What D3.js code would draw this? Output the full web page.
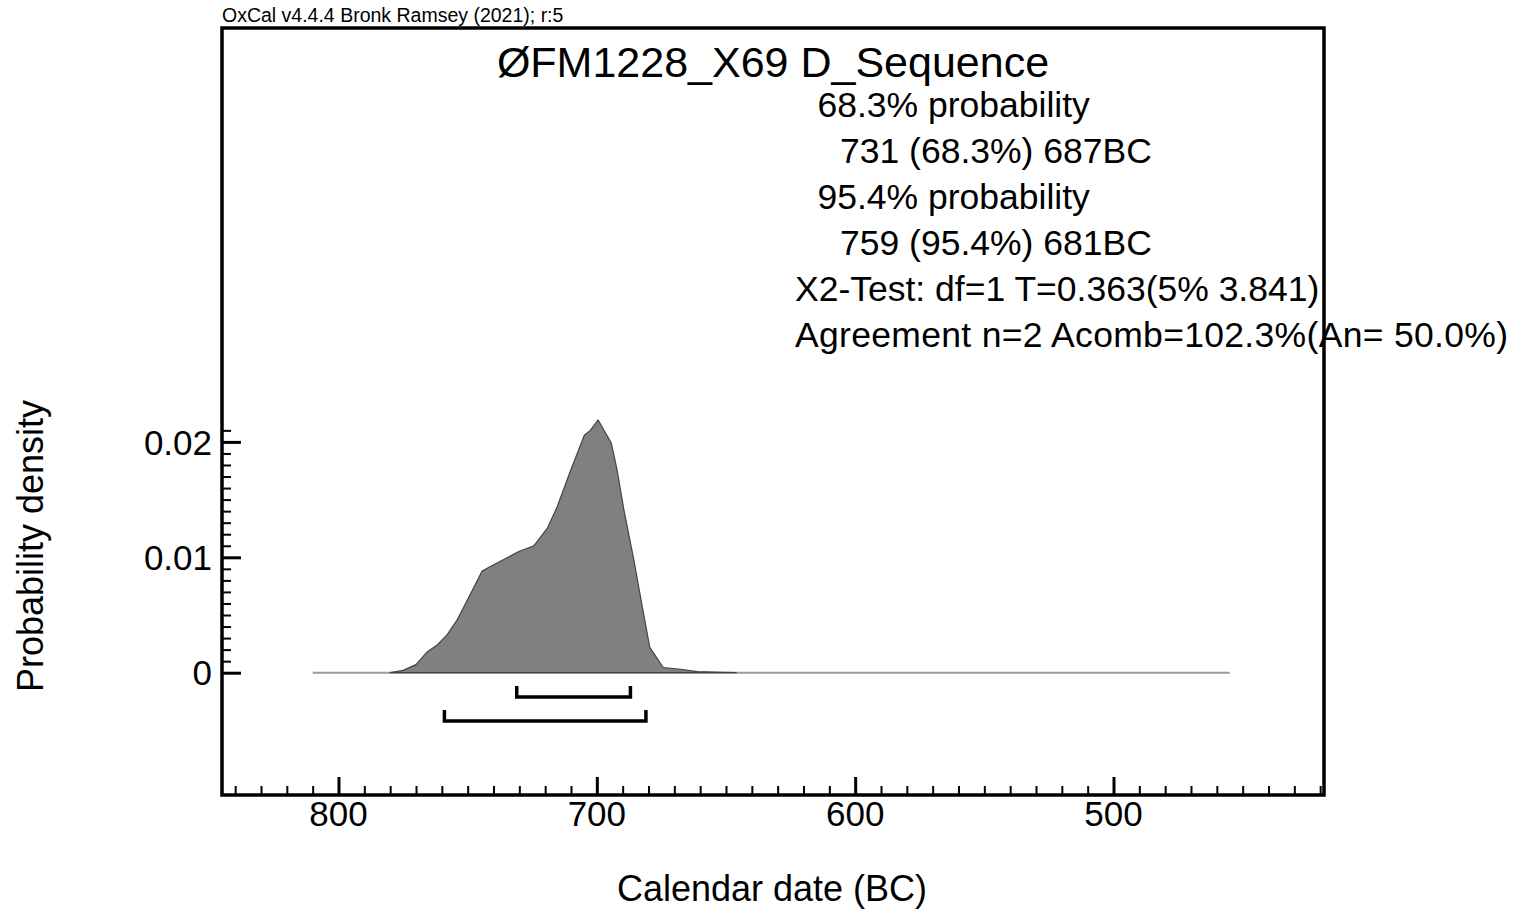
<!DOCTYPE html>
<html>
<head>
<meta charset="utf-8">
<script src="https://cdn.jsdelivr.net/npm/d3@7"></script>
<style>
  html, body { margin: 0; padding: 0; background: #fff; }
  svg { display: block; font-family: "Liberation Sans", Arial, sans-serif; }
</style>
</head>
<body>
<svg id="chart" width="1520" height="911"></svg>
<script>
// ---- data ----
const years = [810, 780, 775, 770, 765.7, 761.8, 757.9, 754, 750.8, 744.4, 741.2, 735.3, 730.2, 724.4, 719.2, 715.3, 710.2, 704.8, 702.5, 699.5, 694.4, 692.1, 689.6, 685.7, 682.4, 679.5, 674.3, 667.6, 661, 651, 646, 455];
const density = [0, 0, 0.0002, 0.0007, 0.0018, 0.0024, 0.0033, 0.0046, 0.0060, 0.0088, 0.0092, 0.0099, 0.0105, 0.0110, 0.0125, 0.0144, 0.0175, 0.0206, 0.0210, 0.0219, 0.0199, 0.0175, 0.0142, 0.0098, 0.0057, 0.0022, 0.00045, 0.0003, 0.0001, 0.00002, 0, 0];
const range68 = [731, 687];
const range95 = [759, 681];
const xTickValues = [800, 700, 600, 500];
const yTickValues = [0, 0.01, 0.02];
const yTickLabels = ["0", "0.01", "0.02"];
const headerText = "OxCal v4.4.4 Bronk Ramsey (2021); r:5";
const titleText = "ØFM1228_X69 D_Sequence";
const infoLines = [
  "68.3% probability",
  "731 (68.3%) 687BC",
  "95.4% probability",
  "759 (95.4%) 681BC",
  "X2-Test: df=1 T=0.363(5% 3.841)",
  "Agreement n=2 Acomb=102.3%(An= 50.0%)"
];
const infoIndent = [1, 2, 1, 2, 0, 0];
const xLabel = "Calendar date (BC)";
const yLabel = "Probability density";

// ---- layout ----
const svg = d3.select("#chart");
const frame = { left: 222, right: 1324, top: 28, bottom: 795 };
const x = d3.scaleLinear().domain([800, 500]).range([338.5, 1113.5]);
const y = d3.scaleLinear().domain([0, 0.01]).range([672.7, 557.3]);

// header
svg.append("text").attr("x", frame.left).attr("y", 22)
  .attr("font-size", 19.5).attr("fill", "#000").text(headerText);

// distribution
const pts = years.map((yr, i) => [yr, density[i]]);
svg.append("line")
  .attr("x1", x(years[0])).attr("x2", x(years[years.length - 1]))
  .attr("y1", y(0)).attr("y2", y(0))
  .attr("stroke", "#999").attr("stroke-width", 2);
const area = d3.area().x(d => x(d[0])).y0(y(0)).y1(d => y(d[1]));
svg.append("path").datum(pts.filter(d => d[0] <= 782 && d[0] >= 640))
  .attr("d", area).attr("fill", "#808080").attr("stroke", "#444").attr("stroke-width", 1.2)
  .attr("stroke-linejoin", "round");

// ranges (brackets)
function bracket(r, yy, h) {
  const p = d3.path();
  p.moveTo(x(r[0]), yy - h); p.lineTo(x(r[0]), yy); p.lineTo(x(r[1]), yy); p.lineTo(x(r[1]), yy - h);
  svg.append("path").attr("d", p.toString()).attr("fill", "none")
    .attr("stroke", "#000").attr("stroke-width", 3.5).attr("stroke-linejoin", "miter");
}
bracket(range68, 697, 11);
bracket(range95, 721, 11);

// x axis ticks (inward)
const xMinor = d3.range(840, 415, -10);
const xAxis = d3.axisTop(x).tickValues(xMinor).tickSize(9).tickFormat("");
const gx = svg.append("g").attr("transform", `translate(0,${frame.bottom})`).call(xAxis);
gx.select(".domain").remove();
gx.selectAll("line").attr("stroke", "#000")
  .attr("stroke-width", d => xTickValues.includes(d) ? 3 : 2)
  .attr("y2", d => xTickValues.includes(d) ? -18 : -9);
svg.selectAll(".xlab").data(xTickValues).enter().append("text")
  .attr("x", d => x(d)).attr("y", 826).attr("text-anchor", "middle")
  .attr("font-size", 35).text(d => d);

// y axis ticks (inward)
const yMinor = d3.range(0, 22).map(i => i / 1000);
const yAxis = d3.axisRight(y).tickValues(yMinor).tickSize(9).tickFormat("");
const gy = svg.append("g").attr("transform", `translate(${frame.left},0)`).call(yAxis);
gy.select(".domain").remove();
gy.selectAll("line").attr("stroke", "#000")
  .attr("stroke-width", (d, i) => (i % 10 === 0) ? 3 : 2)
  .attr("x2", (d, i) => (i % 10 === 0) ? 19 : 9);
svg.selectAll(".ylab").data(yTickValues).enter().append("text")
  .attr("x", 212).attr("y", d => y(d)).attr("dy", "0.36em").attr("text-anchor", "end")
  .attr("font-size", 35).text((d, i) => yTickLabels[i]);

// frame
svg.append("rect").attr("x", frame.left).attr("y", frame.top)
  .attr("width", frame.right - frame.left).attr("height", frame.bottom - frame.top)
  .attr("fill", "none").attr("stroke", "#000").attr("stroke-width", 3.5);

// title
svg.append("text").attr("x", (frame.left + frame.right) / 2).attr("y", 77)
  .attr("text-anchor", "middle").attr("font-size", 43).text(titleText);

// info lines
infoLines.forEach((t, i) => {
  svg.append("text").attr("x", 795 + infoIndent[i] * 22.5)
    .attr("y", 117 + i * 46).attr("font-size", 35.5)
    .attr("textLength", i === 5 ? 713 : null)
    .text(t);
});

// axis titles
svg.append("text").attr("x", 772).attr("y", 901).attr("text-anchor", "middle")
  .attr("font-size", 36).text(xLabel);
svg.append("text").attr("transform", "translate(43,546) rotate(-90)")
  .attr("text-anchor", "middle").attr("font-size", 36).text(yLabel);
</script>
</body>
</html>
